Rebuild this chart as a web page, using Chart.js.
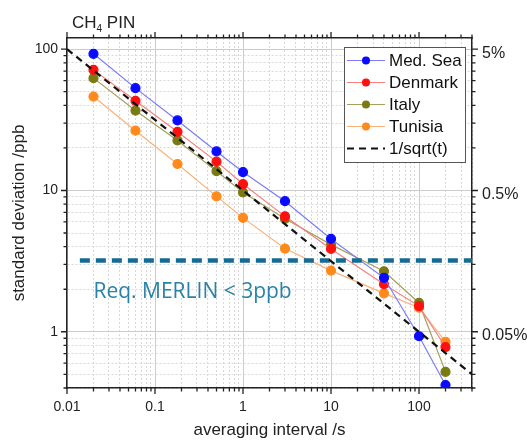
<!DOCTYPE html>
<html>
<head>
<meta charset="utf-8">
<script src="https://cdn.jsdelivr.net/npm/chart.js@4.4.0/dist/chart.umd.min.js"></script>
<style>
  html, body { margin: 0; padding: 0; background: #fff; }
  #wrap { width: 527px; height: 441px; }
</style>
</head>
<body>
<div id="wrap"><canvas id="chart" width="527" height="441"></canvas></div>
<script>
// averaging intervals (s) and standard deviations (ppb)
const intervals = [0.02, 0.06, 0.18, 0.5, 1, 3, 10, 40, 100, 200];
const medSea  = [92.7, 53, 31.3, 18.9, 13.5, 8.4, 4.54, 2.41, 0.93, 0.42];
const denmark = [71.4, 43.1, 26, 16, 11.1, 6.56, 3.86, 2.17, 1.52, 0.78];
const italy   = [62.4, 36.8, 22.6, 13.7, 9.7, 6.3, 4.14, 2.68, 1.6, 0.52];
const tunisia = [46.2, 26.5, 15.4, 9.08, 6.4, 3.88, 2.71, 1.87, 1.48, 0.85];

// 1/sqrt(t) reference line and the MERLIN requirement
const sqrtX = [0.01, 400];
const sqrtY = [100, 0.5];
const reqX = [0.014, 400];
const reqY = [3.2, 3.2];

const xLabels = [0.01, 0.1, 1, 10, 100];
const yLabels = [1, 10, 100];
const yRightLabels = ['0.05%', '0.5%', '5%'];

const X_MIN = 0.01, X_MAX = 400, Y_MIN = 0.4, Y_MAX = 120;

function pts(xs, ys) {
    return xs.map((x, i) => ({ x: x, y: ys[i] }));
}

function logTicks(min, max) {
    const out = [];
    for (let e = Math.floor(Math.log10(min)); e <= Math.ceil(Math.log10(max)); e++) {
        for (let k = 1; k < 10; k++) {
            const v = +(k * Math.pow(10, e)).toPrecision(6);
            if (v >= min && v <= max) out.push({ value: v, major: k === 1 });
        }
    }
    return out;
}

const gridColor = ctx => (ctx.tick && ctx.tick.major) ? '#cccccc' : '#d8d8d8';
const gridDash = ctx => (ctx.tick && ctx.tick.major) ? [] : [2, 2];

function seriesSet(label, data, line, dot) {
    return {
        label: label,
        data: pts(intervals, data),
        borderColor: line,
        backgroundColor: dot,
        pointBackgroundColor: dot,
        pointBorderColor: dot,
        borderWidth: 1.2,
        pointRadius: 4.5,
        pointHoverRadius: 4.5,
        tension: 0,
        order: 2
    };
}

// outward tick marks on all four sides
const tickMarks = {
    id: 'tickMarks',
    afterDraw(chart) {
        const { ctx, chartArea: a } = chart;
        const xs = chart.scales.x, ys = chart.scales.y;
        ctx.save();
        ctx.strokeStyle = '#222';
        ctx.lineWidth = 1.3;
        ctx.beginPath();
        xs.ticks.forEach(t => {
            const px = xs.getPixelForValue(t.value);
            const len = t.major ? 6 : 3.5;
            ctx.moveTo(px, a.bottom); ctx.lineTo(px, a.bottom + len);
            ctx.moveTo(px, a.top); ctx.lineTo(px, a.top - len);
        });
        ys.ticks.forEach(t => {
            const py = ys.getPixelForValue(t.value);
            const len = t.major ? 6 : 3.5;
            ctx.moveTo(a.left, py); ctx.lineTo(a.left - len, py);
            ctx.moveTo(a.right, py); ctx.lineTo(a.right + len, py);
        });
        ctx.stroke();
        ctx.restore();
    }
};

// title, requirement note and the boxed legend
const extras = {
    id: 'extras',
    afterDraw(chart) {
        const { ctx, chartArea: a } = chart;
        const xs = chart.scales.x, ys = chart.scales.y;
        ctx.save();

        ctx.fillStyle = '#222';
        ctx.textBaseline = 'alphabetic';
        ctx.textAlign = 'left';
        ctx.font = '17px "Liberation Sans", Arial, sans-serif';
        let tx = a.left + 5;
        ctx.fillText('CH', tx, 28);
        tx += ctx.measureText('CH').width;
        ctx.font = '10px "Liberation Sans", Arial, sans-serif';
        ctx.fillText('4', tx, 32);
        tx += ctx.measureText('4').width;
        ctx.font = '17px "Liberation Sans", Arial, sans-serif';
        ctx.fillText(' PIN', tx, 28);

        ctx.fillStyle = '#2b82a8';
        ctx.font = '21px "Open Sans", sans-serif';
        ctx.fillText('Req. MERLIN < 3ppb', xs.getPixelForValue(0.02), ys.getPixelForValue(1.72));

        // legend box
        const bx = a.right - 128, by = a.top + 9, bw = 121, bh = 115;
        ctx.fillStyle = '#fff';
        ctx.fillRect(bx, by, bw, bh);
        ctx.strokeStyle = '#555';
        ctx.lineWidth = 1;
        ctx.strokeRect(bx + 0.5, by + 0.5, bw, bh);
        ctx.font = '17px "Liberation Sans", Arial, sans-serif';
        ctx.textBaseline = 'middle';
        const order = [0, 1, 2, 3, 4];
        order.forEach((di, i) => {
            const ds = chart.data.datasets[di];
            const ry = by + 13.5 + i * 22;
            ctx.save();
            ctx.strokeStyle = ds.borderColor;
            ctx.lineWidth = ds.borderWidth;
            if (ds.borderDash) ctx.setLineDash(ds.borderDash);
            ctx.beginPath();
            ctx.moveTo(bx + 3, ry);
            ctx.lineTo(bx + 41, ry);
            ctx.stroke();
            ctx.restore();
            if (ds.pointRadius) {
                ctx.fillStyle = ds.pointBackgroundColor;
                ctx.beginPath();
                ctx.arc(bx + 22, ry, 4, 0, Math.PI * 2);
                ctx.fill();
            }
            ctx.fillStyle = '#111';
            ctx.fillText(ds.label, bx + 45, ry + 1);
        });
        ctx.restore();
    }
};

new Chart(document.getElementById('chart').getContext('2d'), {
    type: 'line',
    data: {
        datasets: [
            seriesSet('Med. Sea', medSea, '#7c7cf6', '#0a0aff'),
            seriesSet('Denmark', denmark, '#f58080', '#ff1010'),
            seriesSet('Italy', italy, '#a2a25c', '#7a7a12'),
            seriesSet('Tunisia', tunisia, '#f9b27c', '#ff8a1c'),
            {
                label: '1/sqrt(t)',
                data: pts(sqrtX, sqrtY),
                borderColor: '#111',
                borderWidth: 2.2,
                borderDash: [7, 5],
                pointRadius: 0,
                order: 0
            },
            {
                label: 'Req. MERLIN',
                data: pts(reqX, reqY),
                borderColor: '#166b90',
                borderWidth: 4.5,
                borderDash: [10, 6],
                pointRadius: 0,
                order: 1
            }
        ]
    },
    options: {
        responsive: false,
        animation: false,
        layout: { padding: 0 },
        plugins: {
            legend: { display: false },
            tooltip: { enabled: false },
            title: { display: false }
        },
        scales: {
            x: {
                type: 'logarithmic',
                position: 'bottom',
                min: X_MIN,
                max: X_MAX,
                afterBuildTicks: s => { s.ticks = logTicks(X_MIN, X_MAX); },
                afterFit: s => { s.height = 53; },
                grid: { color: gridColor, lineWidth: 1, drawTicks: false },
                border: { color: '#222', width: 1.5, dash: gridDash },
                ticks: {
                    autoSkip: false,
                    maxRotation: 0,
                    padding: 11,
                    color: '#222',
                    font: { family: '"Liberation Sans", Arial, sans-serif', size: 14 },
                    callback: v => xLabels.includes(v) ? String(v) : ''
                },
                title: {
                    display: true,
                    text: 'averaging interval /s',
                    color: '#222',
                    font: { family: '"Liberation Sans", Arial, sans-serif', size: 17 },
                    padding: { top: 1, bottom: 0 }
                }
            },
            x2: {
                type: 'logarithmic',
                position: 'top',
                display: true,
                min: X_MIN,
                max: X_MAX,
                afterBuildTicks: s => { s.ticks = logTicks(X_MIN, X_MAX); },
                afterFit: s => { s.height = 38; },
                grid: { drawOnChartArea: false, drawTicks: false },
                border: { color: '#222', width: 1.5 },
                ticks: { display: false }
            },
            y: {
                type: 'logarithmic',
                position: 'left',
                min: Y_MIN,
                max: Y_MAX,
                afterBuildTicks: s => { s.ticks = logTicks(Y_MIN, Y_MAX); },
                afterFit: s => { s.width = 67; },
                grid: { color: gridColor, lineWidth: 1, drawTicks: false },
                border: { color: '#222', width: 1.5, dash: gridDash },
                ticks: {
                    autoSkip: false,
                    padding: 9,
                    color: '#222',
                    font: { family: '"Liberation Sans", Arial, sans-serif', size: 14 },
                    callback: v => yLabels.includes(v) ? String(v) : ''
                },
                title: {
                    display: true,
                    text: 'standard deviation /ppb',
                    color: '#222',
                    font: { family: '"Liberation Sans", Arial, sans-serif', size: 17 },
                    padding: { top: 9, bottom: 0 }
                }
            },
            y2: {
                type: 'logarithmic',
                position: 'right',
                display: true,
                min: Y_MIN,
                max: Y_MAX,
                afterBuildTicks: s => { s.ticks = logTicks(Y_MIN, Y_MAX); },
                afterFit: s => { s.width = 55; },
                grid: { drawOnChartArea: false, drawTicks: false },
                border: { color: '#222', width: 1.5 },
                ticks: {
                    autoSkip: false,
                    padding: 10,
                    labelOffset: 4,
                    color: '#222',
                    font: { family: '"Liberation Sans", Arial, sans-serif', size: 16 },
                    callback: v => {
                        const i = yLabels.indexOf(v);
                        return i >= 0 ? yRightLabels[i] : '';
                    }
                }
            }
        }
    },
    plugins: [tickMarks, extras]
});
</script>
</body>
</html>
